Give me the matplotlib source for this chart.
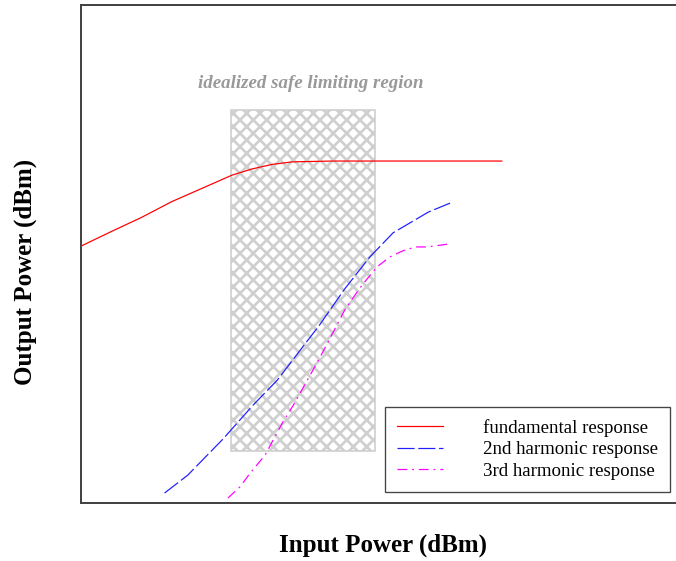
import numpy as np
import matplotlib.pyplot as plt
from matplotlib.patches import Rectangle

plt.rcParams['font.family'] = 'Liberation Serif'
plt.rcParams['hatch.color'] = '#cfcfcf'
plt.rcParams['hatch.linewidth'] = 2.4

# fundamental response
pin_fund = [-30, -27, -24, -21, -18, -15, -13, -11, -9, -7, -5, 0, 6, 11.8]
pout_fund = [-38.1, -34.6, -31.2, -27.4, -24.2, -21.0, -19.5, -18.4, -17.8,
             -17.7, -17.6, -17.6, -17.6, -17.6]

# 2nd harmonic
pin_h2 = [-21.7, -19.4, -15.9, -12.9, -10.5, -8.2, -6.3, -3.8, -1.3, 1.0, 4.5, 6.9]
pout_h2 = [-97.6, -93.3, -84.6, -76.4, -70.4, -63.1, -57.1, -48.4, -40.7,
           -34.9, -29.9, -27.5]

# 3rd harmonic
pin_h3 = [-15.4, -14.2, -13.2, -11.7, -10.0, -8.9, -6.3, -3.8, -2.3, -0.6,
          0.7, 1.9, 3.2, 4.4, 6.5]
pout_h3 = [-98.8, -96.1, -92.8, -88.4, -80.7, -76.4, -65.1, -53.5, -48.2,
           -43.1, -40.7, -39.3, -38.3, -38.3, -37.6]

# safe limiting region (input x output)
safe_x = (-15.1, -0.8)
safe_y = (-87.5, -5.3)

dpi = 80
fig = plt.figure(figsize=(676 / dpi, 561 / dpi), dpi=dpi)
ax = fig.add_axes([81 / 676, 58 / 561, 604 / 676, 498 / 561])
ax.set_xlim(-30, 30)
ax.set_ylim(-100, 20)
ax.set_xticks([])
ax.set_yticks([])
for s in ax.spines.values():
    s.set_color('#444444')
    s.set_linewidth(1.8)

ax.add_patch(Rectangle((safe_x[0], safe_y[0]), safe_x[1] - safe_x[0],
                       safe_y[1] - safe_y[0], facecolor='white',
                       edgecolor='#cfcfcf', hatch='xx', linewidth=1.5, zorder=1))
ax.text(-7.15, 1.2, 'idealized safe limiting region', ha='center',
        va='center', color='#999999', fontsize=17, style='italic',
        fontweight='bold')

ax.plot(pin_fund, pout_fund, color='#ff0000', lw=1.1, label='fundamental response', zorder=3)
ax.plot(pin_h2, pout_h2, color='#2020ff', lw=1.1, ls=(0, (14, 3)),
        label='2nd harmonic response', zorder=3)
ax.plot(pin_h3, pout_h3, color='#ff00ff', lw=1.1, ls=(0, (8, 4, 1.5, 4)),
        label='3rd harmonic response', zorder=3)

leg = ax.legend(loc='lower right', bbox_to_anchor=(670 / 676, 69 / 561),
                bbox_transform=fig.transFigure, fontsize=17, frameon=True,
                fancybox=False, framealpha=1, edgecolor='#444444',
                handlelength=2.45, handletextpad=2.1, labelspacing=0.24,
                borderpad=0.63, borderaxespad=0)
leg.get_frame().set_linewidth(1.2)

fig.text(383 / 676, 1 - 545 / 561, 'Input Power (dBm)', ha='center', va='center',
         fontsize=22.5, fontweight='bold')
fig.text(25 / 676, 1 - 272 / 561, 'Output Power (dBm)', ha='center', va='center',
         rotation=90, fontsize=22.5, fontweight='bold')

fig.savefig('out.png', dpi=dpi)
